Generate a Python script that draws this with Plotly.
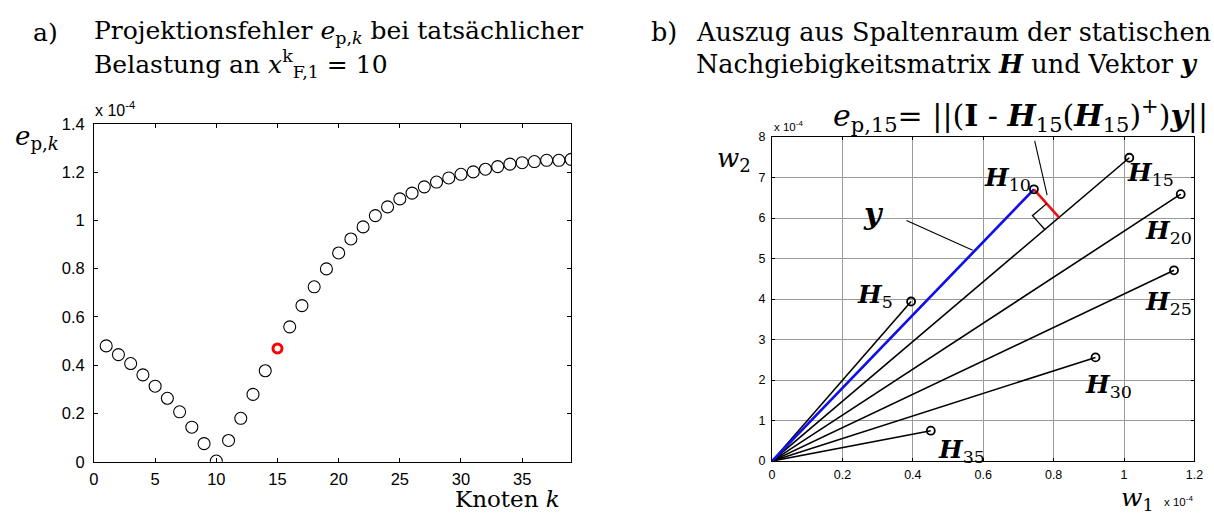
import numpy as np
import plotly.graph_objects as go

W, H = 1214, 519

# ---------------- data: panel a ----------------
knoten = list(range(1, 40))
e_p = [0.480, 0.444, 0.407, 0.360, 0.313, 0.263, 0.207, 0.143, 0.075, 0.003,
       0.088, 0.180, 0.279, 0.377, 0.469, 0.559, 0.647, 0.725, 0.799, 0.865,
       0.923, 0.973, 1.020, 1.056, 1.089, 1.113, 1.139, 1.159, 1.176, 1.191,
       1.201, 1.212, 1.223, 1.233, 1.239, 1.244, 1.249, 1.249, 1.253]
k_highlight = 15
a_xticks = [0, 5, 10, 15, 20, 25, 30, 35]
a_yticks = [0, 0.2, 0.4, 0.6, 0.8, 1.0, 1.2, 1.4]
a_yticktext = ["0", "0.2", "0.4", "0.6", "0.8", "1", "1.2", "1.4"]

# ---------------- data: panel b ----------------
h_names = ["5", "10", "15", "20", "25", "30", "35"]
h_w1 = [0.395, 0.744, 1.015, 1.161, 1.142, 0.919, 0.451]
h_w2 = [3.94, 6.71, 7.49, 6.59, 4.71, 2.56, 0.75]
y_vec = (0.744, 6.71)          # vector y
b_xticks = [0, 0.2, 0.4, 0.6, 0.8, 1.0, 1.2]
b_xticktext = ["0", "0.2", "0.4", "0.6", "0.8", "1", "1.2"]
b_yticks = [0, 1, 2, 3, 4, 5, 6, 7, 8]

# ---------------- layout geometry (pixels) ----------------
A_L, A_R, A_T, A_B = 90, 572.7, 119, 469
B_L, B_R, B_T, B_B = 776, 1203.3, 132.7, 468.3
A_XR, A_YR = [0, 39], [0, 1.4]
B_XR, B_YR = [0, 1.2], [0, 8]


def px(x):
    return x / W


def py(y):
    return 1 - y / H


SERIF = "DejaVu Serif"
SANS = "Liberation Sans"

fig = go.Figure()

# panel a markers
kx = [k for k in knoten if k != k_highlight]
ky = [v for k, v in zip(knoten, e_p) if k != k_highlight]
fig.add_trace(go.Scatter(
    x=kx, y=ky, mode="markers", xaxis="x", yaxis="y",
    marker=dict(symbol="circle-open", size=12, color="black", line=dict(width=1.1)),
    showlegend=False, hoverinfo="skip"))
fig.add_trace(go.Scatter(
    x=[k_highlight], y=[e_p[knoten.index(k_highlight)]], mode="markers",
    xaxis="x", yaxis="y",
    marker=dict(symbol="circle-open", size=9, color="red", line=dict(width=3)),
    showlegend=False, hoverinfo="skip"))

# panel b lines
for w1, w2 in zip(h_w1, h_w2):
    fig.add_trace(go.Scatter(
        x=[0, w1], y=[0, w2], mode="lines", xaxis="x2", yaxis="y2",
        line=dict(color="black", width=1.6), showlegend=False, hoverinfo="skip"))
fig.add_trace(go.Scatter(
    x=[0, y_vec[0]], y=[0, y_vec[1]], mode="lines", xaxis="x2", yaxis="y2",
    line=dict(color="#1010ee", width=2.6), showlegend=False, hoverinfo="skip"))

# projection of y onto H15 (in display metric)
sx = (B_R - B_L) / (B_XR[1] - B_XR[0])
sy = (B_B - B_T) / (B_YR[1] - B_YR[0])
i15 = h_names.index("15")
hvec = np.array([h_w1[i15] * sx, h_w2[i15] * sy])
yv = np.array([y_vec[0] * sx, y_vec[1] * sy])
u = hvec / np.linalg.norm(hvec)
foot = u * np.dot(yv, u)
fig.add_trace(go.Scatter(
    x=[y_vec[0], foot[0] / sx], y=[y_vec[1], foot[1] / sy], mode="lines",
    xaxis="x2", yaxis="y2", line=dict(color="#ee1010", width=2.6),
    showlegend=False, hoverinfo="skip"))
# right-angle marker
d = 19
r = (yv - foot) / np.linalg.norm(yv - foot)
pA = foot + r * d
pB = foot - u * d
pC = pA - u * d
fig.add_trace(go.Scatter(
    x=[pA[0] / sx, pC[0] / sx, pB[0] / sx], y=[pA[1] / sy, pC[1] / sy, pB[1] / sy],
    mode="lines", xaxis="x2", yaxis="y2", line=dict(color="black", width=1.3),
    showlegend=False, hoverinfo="skip"))

# endpoint circles
fig.add_trace(go.Scatter(
    x=h_w1, y=h_w2, mode="markers", xaxis="x2", yaxis="y2",
    marker=dict(symbol="circle-open", size=8, color="black", line=dict(width=1.8)),
    showlegend=False, hoverinfo="skip"))

# leader lines (y label and formula)
leaders = [((912, 219), (979, 250)), ((1041.7, 136.7), (1054.3, 192.7))]
for (x0, y0), (x1, y1) in leaders:
    fig.add_shape(type="line", xref="paper", yref="paper",
                  x0=px(x0), y0=py(y0), x1=px(x1), y1=py(y1),
                  line=dict(color="black", width=1.1))

# H labels (pixel offsets from endpoints)
offsets = {"5": (-36, 6), "10": (-26, 10), "15": (21, -16), "20": (-12, -38),
           "25": (-6, -33), "30": (13, -29), "35": (31, -20)}
for name, w1, w2 in zip(h_names, h_w1, h_w2):
    dx, dy = offsets[name]
    fig.add_annotation(x=w1, y=w2, xref="x2", yref="y2", showarrow=False,
                       xshift=dx, yshift=dy,
                       text=f"<b><i>H</i></b><sub>{name}</sub>",
                       font=dict(family=SERIF, size=25, color="black"))

annots = [
    # panel a titles
    dict(x=26, y=24, text="a)", size=25, family=SERIF),
    dict(x=88, y=24, text="Projektionsfehler <i>e</i><sub>p,<i>k</i></sub> bei tatsächlicher", size=25, family=SERIF),
    dict(x=88, y=57, text="Belastung an <i>x</i><sup>k</sup><sub>F,1</sub> = 10", size=25, family=SERIF),
    # panel b titles
    dict(x=652, y=24, text="b)", size=25.5, family=SERIF),
    dict(x=697, y=24, text="Auszug aus Spaltenraum der statischen", size=25.5, family=SERIF),
    dict(x=697, y=57, text="Nachgiebigkeitsmatrix <b><i>H</i></b> und Vektor <b><i>y</i></b>", size=25.5, family=SERIF),
    dict(x=836, y=110, text="<i>e</i><sub>p,15</sub>= ||(<b>I</b> - <b><i>H</i></b><sub>15</sub>(<b><i>H</i></b><sub>15</sub>)<sup>+</sup>)<b><i>y</i></b>||", size=30, family=SERIF),
    # axis labels
    dict(x=8, y=133, text="<i>e</i><sub>p,<i>k</i></sub>", size=26, family=SERIF),
    dict(x=453, y=508, text="Knoten <i>k</i>", size=23, family=SERIF),
    dict(x=718, y=156, text="<i>w</i><sub>2</sub>", size=26, family=SERIF),
    dict(x=1127, y=508, text="<i>w</i><sub>1</sub>", size=25, family=SERIF),
    dict(x=866, y=212, text="<b><i>y</i></b>", size=30, family=SERIF),
    # exponent labels
    dict(x=89, y=104, text="x 10<sup>-4</sup>", size=16, family=SANS),
    dict(x=776, y=121, text="x 10<sup>-4</sup>", size=11.5, family=SANS),
    dict(x=1170, y=510, text="x 10<sup>-4</sup>", size=11.5, family=SANS),
]
for a in annots:
    fig.add_annotation(x=px(a["x"]), y=py(a["y"]), xref="paper", yref="paper",
                       xanchor="left", yanchor="middle", showarrow=False,
                       text=a["text"], font=dict(family=a["family"], size=a["size"], color="black"))

axis_common = dict(showline=True, linecolor="black", linewidth=1, mirror="allticks",
                   ticks="inside", tickcolor="black", zeroline=False)

fig.update_layout(
    width=W, height=H, autosize=False,
    margin=dict(l=0, r=0, t=0, b=0, pad=0),
    paper_bgcolor="white", plot_bgcolor="white",
    xaxis=dict(domain=[px(A_L), px(A_R)], range=A_XR, anchor="y",
               tickvals=a_xticks, ticklen=4, showgrid=False, ticklabelstandoff=2,
               tickfont=dict(family=SANS, size=16.5, color="black"), **axis_common),
    yaxis=dict(domain=[py(A_B), py(A_T)], range=A_YR, anchor="x",
               tickvals=a_yticks, ticktext=a_yticktext, ticklen=4, showgrid=False,
               ticklabelstandoff=5,
               tickfont=dict(family=SANS, size=16.5, color="black"), **axis_common),
    xaxis2=dict(domain=[px(B_L), px(B_R)], range=B_XR, anchor="y2",
                tickvals=b_xticks, ticktext=b_xticktext, ticklen=3, ticklabelstandoff=2,
                showgrid=True, gridcolor="#9a9a9a", gridwidth=1,
                tickfont=dict(family=SANS, size=12.5, color="black"), **axis_common),
    yaxis2=dict(domain=[py(B_B), py(B_T)], range=B_YR, anchor="x2",
                tickvals=b_yticks, ticklen=3, ticklabelstandoff=3,
                showgrid=True, gridcolor="#9a9a9a", gridwidth=1,
                tickfont=dict(family=SANS, size=12.5, color="black"), **axis_common),
)

fig.write_html("out.html")
